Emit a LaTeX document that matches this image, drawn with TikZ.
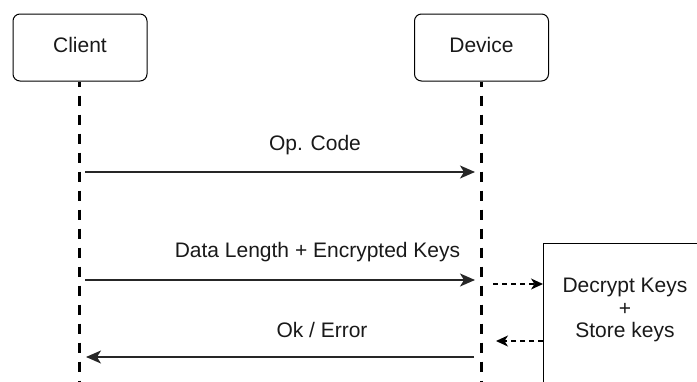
\documentclass[tikz,border=0pt]{standalone}
\usepackage{fontspec}
\setmainfont{Liberation Sans}
\usetikzlibrary{arrows.meta}
\begin{document}
\begin{tikzpicture}[x=1pt,y=-1pt,
  actor/.style={draw=black,line width=1pt,rounded corners=7pt,minimum width=134pt,minimum height=67pt,inner sep=0pt},
  procbox/.style={draw=black,line width=1pt,minimum width=160pt,minimum height=140pt,anchor=north west,inner sep=0pt},
  lifeline/.style={line width=3pt,dash pattern=on 10pt off 9pt,dash phase=5pt},
  msg/.style={line width=1.6pt,draw=black!85,-{Stealth[length=15pt,width=13pt,inset=4pt]}},
  aux/.style={line width=1.5pt,dash pattern=on 5pt off 4pt,-{Stealth[length=12pt,width=11pt,inset=3.5pt]}},
  lbl/.style={font=\fontsize{21}{22.5}\selectfont,inner sep=0pt,text=black!90}]
\useasboundingbox (0,0) rectangle (697,381);
\node[actor] (client) at (80,47.5) {};
\node[actor] (device) at (481.5,47.5) {};
\node[lbl,anchor=base] (clientlbl) at (80,52.7) {Client};
\node[lbl,anchor=base] (devicelbl) at (481.5,52.7) {Device};
\coordinate (cbot) at (79,381);
\coordinate (dbot) at (481,381);
\draw[lifeline] (client.south -| cbot) -- (cbot);
\draw[lifeline] (device.south -| dbot) -- (dbot);
\node[procbox] (proc) at (543,243) {};
\node[lbl,anchor=base] (dk) at (625,292.5) {Decrypt Keys};
\node[lbl,anchor=base] (plus) at (625,315) {+};
\node[lbl,anchor=base] (sk) at (625,337.5) {Store keys};
\coordinate (c1) at (85,172);
\coordinate (d1) at (475,172);
\coordinate (c2) at (85,280);
\coordinate (d2) at (475,280);
\coordinate (d3) at (474,357);
\coordinate (c3) at (86,357);
\draw[msg] (c1) -- (d1);
\draw[msg] (c2) -- (d2);
\draw[msg] (d3) -- (c3);
\node[lbl,anchor=base] (l1) at (315,150) {Op. Code};
\node[lbl,anchor=base] (l2) at (317.5,257.5) {Data Length + Encrypted Keys};
\node[lbl,anchor=base] (l3) at (322,337.5) {Ok / Error};
\coordinate (a1) at (493,284);
\coordinate (a2) at (496,341);
\draw[aux] (a1) -- (a1 -| proc.west);
\draw[aux] (a2 -| proc.west) -- (a2);
\end{tikzpicture}
\end{document}
